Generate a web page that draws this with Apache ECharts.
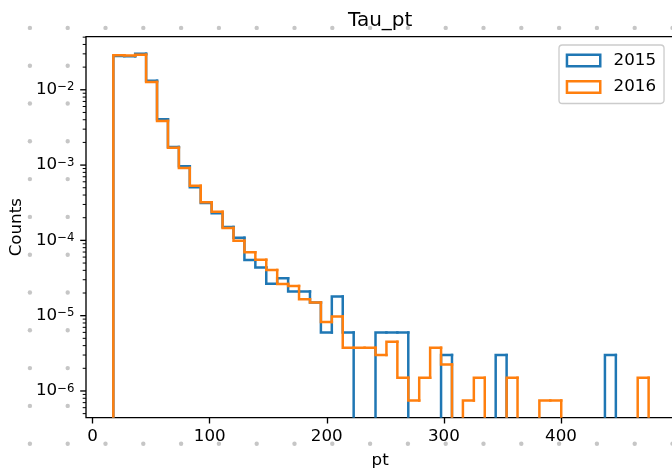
<!DOCTYPE html>
<html><head><meta charset="utf-8">
<script src="https://cdn.jsdelivr.net/npm/echarts@6/dist/echarts.min.js"></script>
<style>html,body{margin:0;padding:0;background:#fff}#c{width:672px;height:474px}</style>
</head><body><div id="c"></div>
<script>
// ---- data ----
const seriesNames = ['2015', '2016'];
const binStart = 17.7;      // first bin edge (pt)
const binWidth = 9.33;      // bin width (pt)
const nBins = 50;
const counts2015 = [0.0280, 0.0279, 0.0302, 0.0132, 0.00405, 0.00174, 0.000964, 0.000507, 0.000314, 0.000229,
  0.000151, 0.000108, 5.5e-5, 4.35e-5, 2.65e-5, 3.15e-5, 2.1e-5, 2.1e-5, 1.5e-5, 6e-6,
  1.8e-5, 6e-6, 0, 0, 6e-6, 6e-6, 6e-6, 0, 0, 0,
  3e-6, 0, 0, 0, 0, 3e-6, 0, 0, 0, 0,
  0, 0, 0, 0, 0, 3e-6, 0, 0, 0, 0];
const counts2016 = [0.0287, 0.0285, 0.0293, 0.0127, 0.00385, 0.0017, 0.000915, 0.000532, 0.00032, 0.00024,
  0.000146, 9.9e-5, 6.95e-5, 5.55e-5, 4.05e-5, 2.63e-5, 2.48e-5, 1.65e-5, 1.5e-5, 8.25e-6,
  9.75e-6, 3.75e-6, 3.75e-6, 3.75e-6, 3e-6, 4.5e-6, 1.5e-6, 7.5e-7, 1.5e-6, 3.75e-6,
  2.25e-6, 0, 7.5e-7, 1.5e-6, 0, 0, 1.5e-6, 0, 0, 7.5e-7,
  7.5e-7, 0, 0, 0, 0, 0, 0, 0, 1.5e-6, 0];
const xTicks = [0, 100, 200, 300, 400];
const yMajorTicks = [1e-6, 1e-5, 1e-4, 1e-3, 1e-2];
const yMinorExps = [-7, -6, -5, -4, -3, -2];
const yMinorMults = [2, 3, 4, 5, 6, 7, 8, 9];

// ---- axis ranges ----
const XMIN = -5.64, XMAX = 496.8;
const YMIN = Math.pow(10, -6.355), YMAX = Math.pow(10, -1.295);
const FLOOR = 1e-12;
const FONT = 'DejaVu Sans';
const C2015 = '#1f77b4', C2016 = '#ff7f0e';

const edges = [];
for (let k = 0; k <= nBins; k++) edges.push(binStart + binWidth * k);

function stepData(counts) {
  const out = [];
  for (let k = 0; k <= nBins; k++) {
    const prev = k === 0 ? 0 : counts[k - 1];
    const cur = k === nBins ? 0 : counts[k];
    const xr = k === nBins ? edges[k] : edges[k + 1];
    out.push([edges[k], xr, prev > 0 ? prev : FLOOR, cur > 0 ? cur : FLOOR]);
  }
  return out;
}

function renderStep(params, api) {
  const a = api.coord([api.value(0), api.value(2)]);
  const b = api.coord([api.value(0), api.value(3)]);
  const c = api.coord([api.value(1), api.value(3)]);
  return {
    type: 'polyline',
    shape: { points: [a, b, c] },
    style: { stroke: api.visual('color'), fill: 'none', lineWidth: 2.5, lineCap: 'square', lineJoin: 'miter' }
  };
}

const yTickData = yMajorTicks.map(v => [XMIN, v, 5.8, 1.33]);
yMinorExps.forEach(e => yMinorMults.forEach(m => {
  const v = m * Math.pow(10, e);
  if (v > YMIN && v < YMAX) yTickData.push([XMIN, v, 3.3, 1.0]);
}));

function renderYTick(params, api) {
  const p = api.coord([api.value(0), api.value(1)]);
  return {
    type: 'line',
    shape: { x1: p[0], y1: p[1], x2: p[0] - api.value(2), y2: p[1] },
    style: { stroke: '#000', lineWidth: api.value(3) }
  };
}

const dots = [];
for (let i = 0; i < 18; i++) for (let j = 0; j < 13; j++) {
  dots.push({ type: 'circle', silent: true, z: -10,
    shape: { cx: 29.9 + 37.8 * i, cy: 27.9 + 37.8 * j, r: 2.2 },
    style: { fill: '#c6c6c6' } });
}

const chart = echarts.init(document.getElementById('c'), null, { renderer: 'canvas' });
chart.setOption({
  animation: false,
  backgroundColor: '#fff',
  graphic: { elements: dots },
  title: {
    text: 'Tau_pt', left: 380.2, top: 10.6, textAlign: 'center', padding: 0,
    textStyle: { fontSize: 20, fontWeight: 'normal', color: '#000', fontFamily: FONT }
  },
  grid: {
    left: 86, top: 36.7, width: 588.3, height: 381,
    outerBoundsMode: 'none', containLabel: false,
    show: true, backgroundColor: '#fff', borderColor: '#000', borderWidth: 1.33
  },
  legend: {
    orient: 'vertical', left: 559, top: 45,
    padding: [7, 8, 8, 6.7],
    itemWidth: 33.3, itemHeight: 11.7, itemGap: 9.5,
    backgroundColor: 'rgba(255,255,255,0.8)', borderColor: '#cccccc', borderWidth: 1.33, borderRadius: 3.3,
    textStyle: { fontSize: 16.7, color: '#000', fontFamily: FONT, padding: [0, 0, 0, 8.3] },
    data: [
      { name: seriesNames[0], icon: 'rect', itemStyle: { color: 'rgba(0,0,0,0)', borderColor: C2015, borderWidth: 2.5 } },
      { name: seriesNames[1], icon: 'rect', itemStyle: { color: 'rgba(0,0,0,0)', borderColor: C2016, borderWidth: 2.5 } }
    ]
  },
  xAxis: {
    type: 'value', min: XMIN, max: XMAX,
    axisLine: { show: false },
    splitLine: { show: false },
    axisTick: { show: true, customValues: xTicks, length: 5.8, lineStyle: { color: '#000', width: 1.33 } },
    axisLabel: { customValues: xTicks, margin: 10, fontSize: 16.7, color: '#000', fontFamily: FONT },
    name: 'pt', nameLocation: 'middle', nameGap: 34.8,
    nameTextStyle: { fontSize: 16.7, color: '#000', fontFamily: FONT }
  },
  yAxis: {
    type: 'log', logBase: 10, min: YMIN, max: YMAX,
    axisLine: { show: false },
    splitLine: { show: false },
    axisTick: { show: false },
    axisLabel: {
      showMinLabel: false, showMaxLabel: false, margin: 11.6,
      formatter: function (v) {
        const e = Math.log10(v);
        const r = Math.round(e);
        if (Math.abs(e - r) > 1e-6) return '';
        return '{b|10}{s|' + (r < 0 ? '\u2212' : '') + Math.abs(r) + '}';
      },
      rich: {
        b: { fontSize: 16.7, lineHeight: 17, padding: [6, 0, 0, 0], verticalAlign: 'bottom', color: '#000', fontFamily: FONT },
        s: { fontSize: 11.7, lineHeight: 12, verticalAlign: 'top', color: '#000', fontFamily: FONT }
      }
    },
    name: 'Counts', nameLocation: 'middle', nameGap: 59,
    nameTextStyle: { fontSize: 16.7, color: '#000', fontFamily: FONT }
  },
  series: [
    { name: seriesNames[0], type: 'custom', renderItem: renderStep, data: stepData(counts2015),
      encode: { x: [0, 1], y: [2, 3] }, clip: true, itemStyle: { color: C2015 }, z: 3 },
    { name: seriesNames[1], type: 'custom', renderItem: renderStep, data: stepData(counts2016),
      encode: { x: [0, 1], y: [2, 3] }, clip: true, itemStyle: { color: C2016 }, z: 4 },
    { name: 'yticks', type: 'custom', renderItem: renderYTick, data: yTickData,
      encode: { x: 0, y: 1 }, clip: false, silent: true, z: 5 }
  ]
});
</script></body></html>
